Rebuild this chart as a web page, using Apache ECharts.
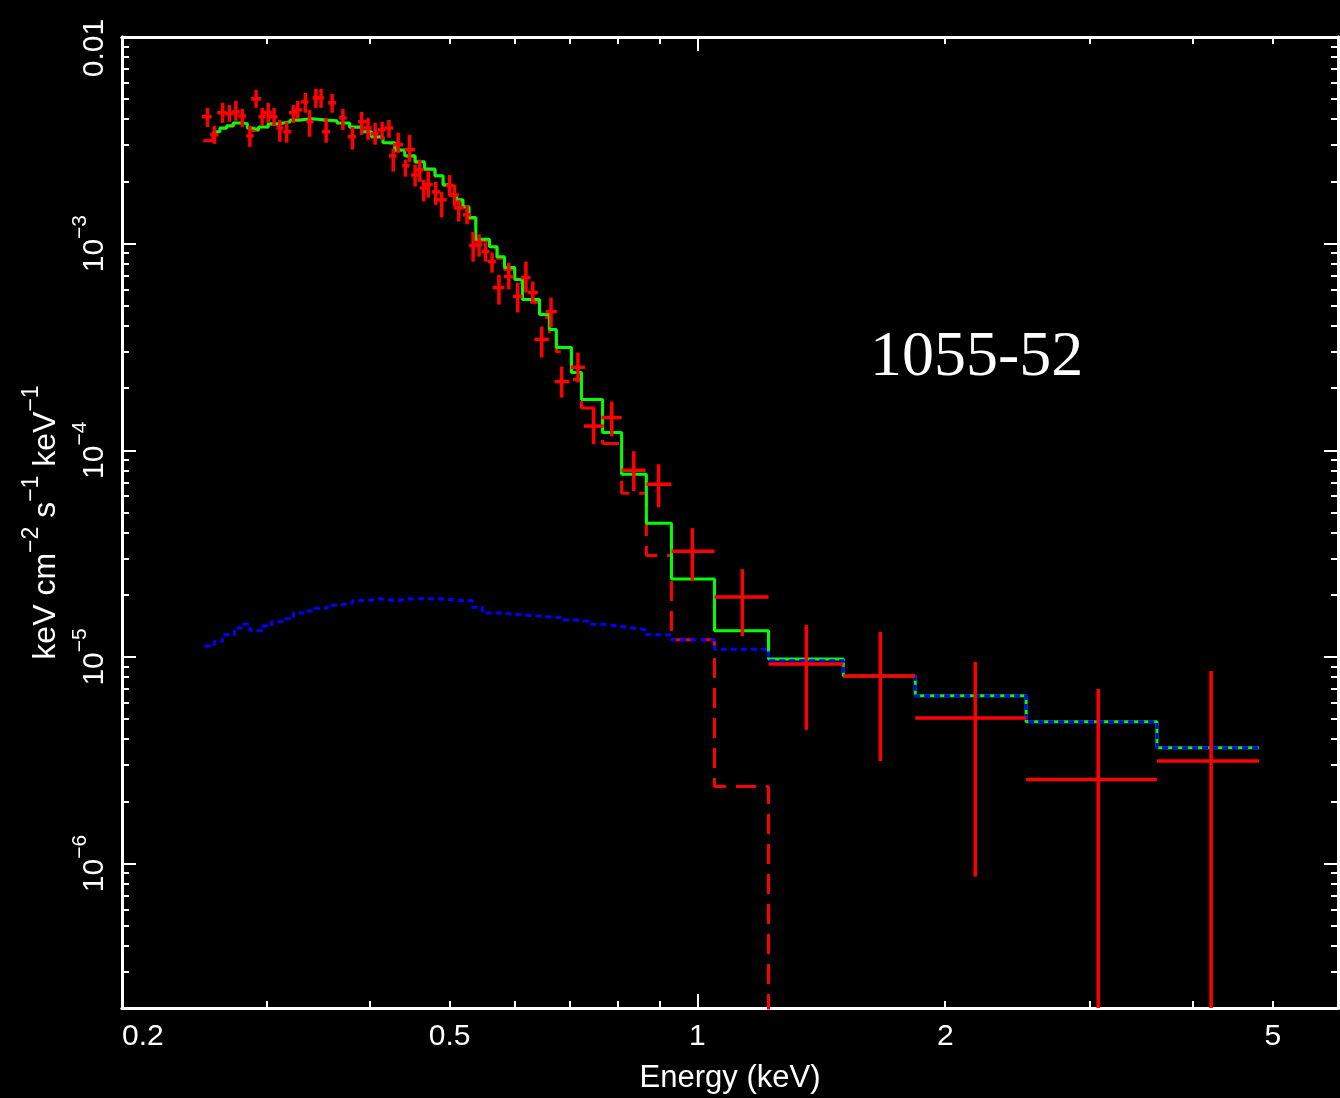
<!DOCTYPE html>
<html>
<head>
<meta charset="utf-8">
<script src="https://cdn.jsdelivr.net/npm/echarts@6/dist/echarts.min.js"></script>
<style>
  html, body { margin: 0; padding: 0; background: #000; }
  #chart { width: 1340px; height: 1098px; }
</style>
</head>
<body>
<div id="chart"></div>
<script>
// axis ranges (keV, keV cm^-2 s^-1 keV^-1)
const xMin = 0.2, xMax = 6
const yMin = 2e-7, yMax = 0.01
const xTickLabels = [0.2, 0.5, 1, 2, 5]
const yTickLabels = [0.01, 1e-3, 1e-4, 1e-5, 1e-6]

// data points: energy, bin edges, flux and flux error range
const energy   = [0.254,0.259,0.265,0.270,0.275,0.280,0.286,0.291,0.296,0.301,0.306,0.311,0.317,0.323,0.327,0.334,0.338,0.344,0.349,0.360,0.354,0.371,0.381,0.391,0.398,0.406,0.414,0.422,0.427,0.433,0.442,0.447,0.454,0.460,0.465,0.471,0.481,0.489,0.500,0.507,0.513,0.525,0.534,0.543,0.553,0.563,0.574,0.590,0.605,0.619,0.631,0.647,0.664,0.684,0.716,0.748,0.787,0.837,0.897,0.986,1.134,1.356,1.668,2.175,3.068,4.207]
const energyLo = [0.250,0.256,0.261,0.267,0.272,0.277,0.283,0.287,0.293,0.297,0.302,0.308,0.314,0.319,0.324,0.330,0.335,0.341,0.346,0.356,0.350,0.367,0.376,0.387,0.393,0.401,0.409,0.417,0.422,0.427,0.438,0.441,0.449,0.455,0.460,0.466,0.476,0.482,0.495,0.501,0.506,0.519,0.528,0.537,0.547,0.556,0.564,0.582,0.597,0.610,0.622,0.634,0.654,0.671,0.702,0.728,0.765,0.809,0.867,0.930,1.049,1.220,1.504,1.839,2.508,3.616]
const energyHi = [0.257,0.262,0.268,0.273,0.278,0.283,0.289,0.295,0.299,0.304,0.309,0.314,0.321,0.326,0.331,0.337,0.342,0.347,0.352,0.364,0.358,0.375,0.385,0.396,0.402,0.410,0.418,0.427,0.431,0.439,0.447,0.454,0.459,0.465,0.470,0.477,0.487,0.496,0.506,0.513,0.520,0.531,0.540,0.548,0.559,0.569,0.583,0.598,0.613,0.627,0.640,0.660,0.675,0.699,0.730,0.769,0.809,0.865,0.930,1.049,1.220,1.504,1.839,2.508,3.616,4.810]
const flux     = [4.11e-3,3.36e-3,4.30e-3,4.25e-3,4.34e-3,4.15e-3,3.32e-3,5.02e-3,4.11e-3,4.30e-3,4.11e-3,3.63e-3,3.48e-3,4.30e-3,4.44e-3,4.85e-3,3.89e-3,5.07e-3,5.07e-3,4.80e-3,3.48e-3,4.06e-3,3.29e-3,3.89e-3,3.63e-3,3.40e-3,3.55e-3,3.63e-3,2.66e-3,3.01e-3,2.38e-3,2.85e-3,2.15e-3,2.28e-3,1.86e-3,1.93e-3,1.78e-3,1.63e-3,1.91e-3,1.72e-3,1.49e-3,1.38e-3,9.78e-4,9.89e-4,9.15e-4,8.18e-4,6.13e-4,6.93e-4,5.55e-4,6.85e-4,5.80e-4,3.44e-4,4.69e-4,2.15e-4,2.52e-4,1.31e-4,1.44e-4,8.0e-5,6.85e-5,3.25e-5,1.95e-5,9.25e-6,8.09e-6,5.07e-6,2.55e-6,3.14e-6]
const fluxHi   = [4.54e-3,3.72e-3,4.80e-3,4.69e-3,4.91e-3,4.49e-3,3.72e-3,5.55e-3,4.54e-3,4.80e-3,4.54e-3,3.97e-3,3.89e-3,4.69e-3,4.91e-3,5.36e-3,4.44e-3,5.61e-3,5.61e-3,5.30e-3,4.06e-3,4.49e-3,3.67e-3,4.34e-3,4.06e-3,3.84e-3,3.89e-3,3.97e-3,2.88e-3,3.44e-3,2.55e-3,3.36e-3,2.41e-3,2.55e-3,2.04e-3,2.23e-3,1.99e-3,1.78e-3,2.15e-3,1.93e-3,1.63e-3,1.54e-3,1.14e-3,1.11e-3,1.01e-3,9.05e-4,7.08e-4,8.09e-4,6.48e-4,8.18e-4,6.55e-4,3.97e-4,5.48e-4,2.54e-4,2.97e-4,1.61e-4,1.72e-4,9.89e-5,8.56e-5,4.20e-5,2.66e-5,1.43e-5,1.32e-5,9.46e-6,7.00e-6,8.56e-6]
const fluxLo   = [3.67e-3,3.04e-3,3.84e-3,3.89e-3,3.93e-3,3.67e-3,2.94e-3,4.54e-3,3.72e-3,3.84e-3,3.72e-3,3.11e-3,3.08e-3,3.84e-3,4.02e-3,4.30e-3,3.29e-3,4.54e-3,4.54e-3,4.30e-3,3.08e-3,3.55e-3,2.85e-3,3.36e-3,3.18e-3,3.01e-3,3.18e-3,3.25e-3,2.23e-3,2.75e-3,2.11e-3,2.49e-3,1.89e-3,1.99e-3,1.60e-3,1.67e-3,1.54e-3,1.34e-3,1.69e-3,1.51e-3,1.28e-3,1.24e-3,8.18e-4,8.65e-4,8.18e-4,7.24e-4,5.07e-4,6.0e-4,4.64e-4,5.80e-4,5.25e-4,2.81e-4,3.93e-4,1.80e-4,2.13e-4,1.07e-4,1.17e-4,6.34e-5,5.30e-5,2.33e-5,1.26e-5,4.44e-6,3.14e-6,8.65e-7,0,0]

// total model (green), bin left edges and values
const totalE = [0.258,0.263,0.268,0.273,0.280,0.284,0.288,0.293,0.301,0.309,0.320,0.329,0.340,0.353,0.365,0.378,0.391,0.402,0.415,0.429,0.441,0.454,0.466,0.480,0.491,0.500,0.510,0.519,0.528,0.538,0.559,0.571,0.583,0.600,0.613,0.643,0.661,0.674,0.703,0.723,0.767,0.809,0.867,0.930,1.049,1.220,1.504,1.839,2.508,3.616,4.810]
const totalF = [3.48e-3,3.63e-3,3.72e-3,3.84e-3,3.80e-3,3.63e-3,3.55e-3,3.67e-3,3.80e-3,3.88e-3,3.97e-3,4.02e-3,3.97e-3,3.93e-3,3.84e-3,3.67e-3,3.48e-3,3.29e-3,3.08e-3,2.84e-3,2.66e-3,2.49e-3,2.30e-3,2.13e-3,1.93e-3,1.72e-3,1.63e-3,1.51e-3,1.34e-3,1.05e-3,9.67e-4,8.65e-4,7.66e-4,6.70e-4,5.36e-4,4.54e-4,3.84e-4,3.14e-4,2.38e-4,1.76e-4,1.22e-4,7.66e-5,4.44e-5,2.38e-5,1.34e-5,9.78e-6,8.09e-6,6.48e-6,4.85e-6,3.63e-6,3.63e-6]

// soft component (red dashed)
const softE = [0.251,0.258,0.263,0.268,0.273,0.280,0.284,0.288,0.293,0.301,0.309,0.320,0.329,0.340,0.353,0.365,0.378,0.391,0.402,0.415,0.429,0.441,0.454,0.466,0.480,0.491,0.500,0.510,0.519,0.528,0.538,0.559,0.571,0.583,0.600,0.613,0.643,0.661,0.674,0.703,0.723,0.767,0.809,0.867,0.930,1.049,1.220]
const softF = [3.15e-3,3.46e-3,3.61e-3,3.70e-3,3.82e-3,3.78e-3,3.61e-3,3.53e-3,3.65e-3,3.78e-3,3.86e-3,3.95e-3,4.00e-3,3.95e-3,3.91e-3,3.82e-3,3.65e-3,3.46e-3,3.27e-3,3.06e-3,2.82e-3,2.64e-3,2.47e-3,2.28e-3,2.11e-3,1.91e-3,1.70e-3,1.61e-3,1.49e-3,1.32e-3,1.03e-3,9.5e-4,8.5e-4,7.5e-4,6.5e-4,5.2e-4,4.4e-4,3.7e-4,3.0e-4,2.2e-4,1.6e-4,1.08e-4,6.2e-5,3.1e-5,1.21e-5,2.36e-6,1e-9]

// power-law component (blue dotted)
const powE = [0.252,0.259,0.265,0.274,0.280,0.286,0.296,0.304,0.313,0.323,0.332,0.341,0.355,0.368,0.381,0.397,0.411,0.431,0.447,0.466,0.486,0.504,0.519,0.533,0.548,0.575,0.597,0.613,0.638,0.661,0.686,0.713,0.740,0.771,0.800,0.834,0.867,0.930,1.049,1.220,1.504,1.839,2.508,3.616,4.810]
const powF = [1.13e-5,1.19e-5,1.28e-5,1.38e-5,1.44e-5,1.34e-5,1.41e-5,1.48e-5,1.53e-5,1.63e-5,1.67e-5,1.72e-5,1.78e-5,1.82e-5,1.87e-5,1.91e-5,1.87e-5,1.91e-5,1.91e-5,1.91e-5,1.89e-5,1.87e-5,1.87e-5,1.74e-5,1.63e-5,1.61e-5,1.60e-5,1.58e-5,1.56e-5,1.55e-5,1.51e-5,1.48e-5,1.44e-5,1.41e-5,1.38e-5,1.35e-5,1.28e-5,1.21e-5,1.09e-5,9.57e-6,8.09e-6,6.48e-6,4.85e-6,3.63e-6,3.63e-6]

const lg = Math.log10
const FONT = '"Liberation Sans", "DejaVu Sans", sans-serif'

// tick positions: minor at 2..9 of each decade, major at decades
const xMinor = [0.3, 0.4, 0.5, 0.6, 0.7, 0.8, 0.9, 2, 3, 4, 5]
const xMajor = [1]
const yMinor = []
const yMajor = []
for (let k = -7; k <= -3; k++) {
  for (let m = 2; m <= 9; m++) {
    const v = m * Math.pow(10, k)
    if (v > yMin && v < yMax) yMinor.push(lg(v))
  }
  if (k > -7) yMajor.push(k)
}

const pairs = (xs, ys) => xs.map((x, i) => [lg(x), lg(ys[i])])
const crossData = energy.map((e, i) => [
  lg(e), lg(energyLo[i]), lg(energyHi[i]),
  lg(flux[i]), lg(fluxHi[i]), fluxLo[i] > 0 ? lg(fluxLo[i]) : lg(yMin)
])

const xLabel = v => String(+Math.pow(10, v).toPrecision(3))
const yLabel = v => {
  const p = Math.round(v)
  return p === -2 ? '{m|0.01}' : '{n|10}{s|\u2212' + (-p) + '}'
}

const tickRich = {
  n: { color: '#fff', fontSize: 30, fontFamily: FONT, lineHeight: 40, verticalAlign: 'bottom' },
  m: { color: '#fff', fontSize: 30, fontFamily: FONT, lineHeight: 40, verticalAlign: 'bottom', padding: [0, 22, 0, 0] },
  s: { color: '#fff', fontSize: 21, fontFamily: FONT, verticalAlign: 'top' }
}
const nameRich = {
  n: { color: '#fff', fontSize: 32, fontFamily: FONT, lineHeight: 42, verticalAlign: 'bottom' },
  s: { color: '#fff', fontSize: 23, fontFamily: FONT, verticalAlign: 'top' }
}

const xAx = (pos, ticks, len, labels) => ({
  type: 'value', position: pos, min: lg(xMin), max: lg(xMax),
  axisLine: { show: true, onZero: false, lineStyle: { color: '#fff', width: 3 } },
  axisTick: { show: true, inside: true, length: len, customValues: ticks, lineStyle: { color: '#fff', width: 2 } },
  axisLabel: labels ? {
    show: true, customValues: xTickLabels.map(lg), formatter: xLabel,
    color: '#fff', fontSize: 30, fontFamily: FONT, margin: 14, alignMinLabel: 'left'
  } : { show: false },
  splitLine: { show: false },
  name: labels ? 'Energy (keV)' : '',
  nameLocation: 'middle', nameGap: 55,
  nameTextStyle: { color: '#fff', fontSize: 31, fontFamily: FONT }
})

const yAx = (pos, ticks, len, labels) => ({
  type: 'value', position: pos, min: lg(yMin), max: lg(yMax),
  axisLine: { show: true, onZero: false, lineStyle: { color: '#fff', width: 3 } },
  axisTick: { show: true, inside: true, length: len, customValues: ticks, lineStyle: { color: '#fff', width: 2 } },
  axisLabel: labels ? {
    show: true, customValues: yTickLabels.map(v => Math.round(lg(v))), formatter: yLabel,
    rotate: 90, margin: 12, rich: tickRich
  } : { show: false },
  splitLine: { show: false },
  name: labels ? '{n|keV cm}{s|\u22122}{n| s}{s|\u22121}{n| keV}{s|\u22121}' : '',
  nameLocation: 'middle', nameGap: 56,
  nameTextStyle: { rich: nameRich }
})

const renderCross = (params, api) => {
  const l = api.coord([api.value(1), api.value(3)])
  const r = api.coord([api.value(2), api.value(3)])
  const t = api.coord([api.value(0), api.value(4)])
  const b = api.coord([api.value(0), api.value(5)])
  const style = { stroke: '#ff0000', lineWidth: 3.5 }
  return {
    type: 'group',
    children: [
      { type: 'line', shape: { x1: l[0], y1: l[1], x2: r[0], y2: r[1] }, style },
      { type: 'line', shape: { x1: t[0], y1: t[1], x2: b[0], y2: b[1] }, style }
    ]
  }
}

const chart = echarts.init(document.getElementById('chart'))
chart.setOption({
  backgroundColor: '#000',
  animation: false,
  grid: { left: 122, right: 2, top: 37, bottom: 90, containLabel: false, outerBoundsMode: 'none' },
  xAxis: [
    xAx('bottom', xMinor.map(lg), 7, true),
    xAx('bottom', xMajor.map(lg), 14, false),
    xAx('top', xMinor.map(lg), 7, false),
    xAx('top', xMajor.map(lg), 14, false)
  ],
  yAxis: [
    yAx('left', yMinor, 7, true),
    yAx('left', yMajor, 14, false),
    yAx('right', yMinor, 7, false),
    yAx('right', yMajor, 14, false)
  ],
  graphic: [{
    type: 'text', left: 870, top: 326, silent: true,
    style: { text: '1055-52', fill: '#fff', font: '64px "Liberation Serif", "DejaVu Serif", serif' }
  }],
  series: [
    {
      name: 'soft', type: 'line', step: 'end', showSymbol: false, silent: true, z: 2,
      data: pairs(softE, softF),
      lineStyle: { color: '#ff0000', width: 3, type: [20, 10] }
    },
    {
      name: 'total', type: 'line', step: 'end', showSymbol: false, silent: true, z: 3,
      data: pairs(totalE, totalF),
      lineStyle: { color: '#00ff00', width: 3 }
    },
    {
      name: 'power', type: 'line', step: 'end', showSymbol: false, silent: true, z: 4,
      data: pairs(powE, powF),
      lineStyle: { color: '#0000ff', width: 3, type: [6, 4] }
    },
    {
      name: 'data', type: 'custom', silent: true, z: 5, clip: true,
      renderItem: renderCross,
      encode: { x: [0, 1, 2], y: [3, 4, 5] },
      data: crossData
    }
  ]
})
</script>
</body>
</html>
